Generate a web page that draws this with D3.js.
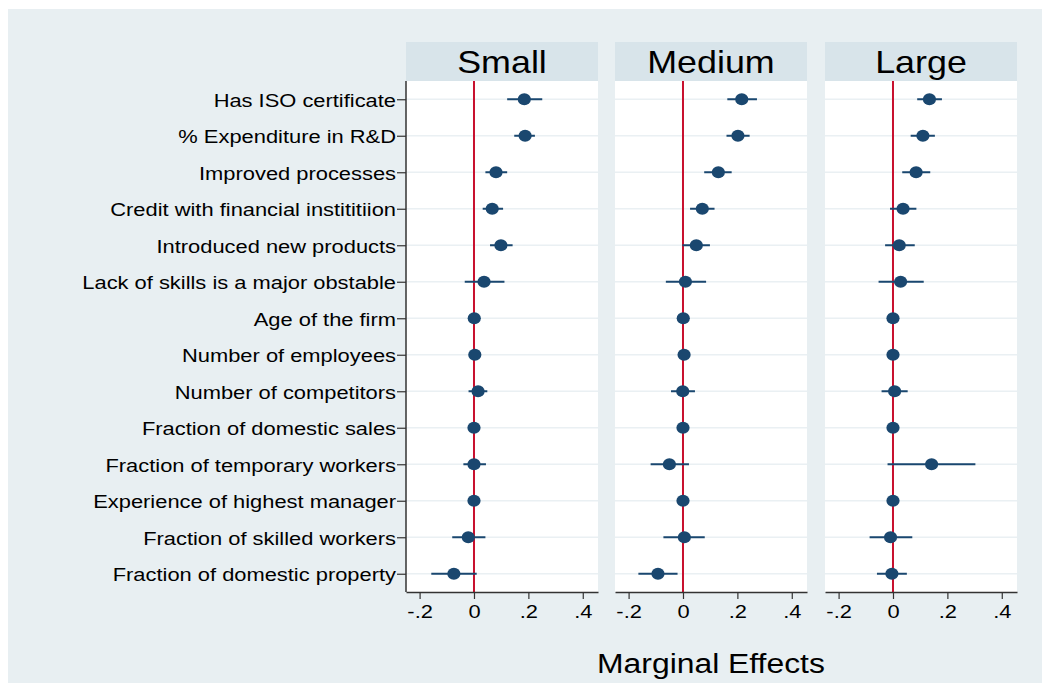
<!DOCTYPE html>
<html>
<head>
<meta charset="utf-8">
<script src="https://cdn.jsdelivr.net/npm/d3@7"></script>
<style>
  html, body { margin: 0; padding: 0; background: #ffffff; }
  svg { display: block; }
  text { font-family: "Liberation Sans", Arial, sans-serif; fill: #000; }
</style>
</head>
<body>
<svg id="chart" width="1042" height="683"></svg>
<script>
// Covariates, top to bottom
const categories = [
  "Has ISO certificate",
  "% Expenditure in R&D",
  "Improved processes",
  "Credit with financial instititiion",
  "Introduced new products",
  "Lack of skills is a major obstable",
  "Age of the firm",
  "Number of employees",
  "Number of competitors",
  "Fraction of domestic sales",
  "Fraction of temporary workers",
  "Experience of highest manager",
  "Fraction of skilled workers",
  "Fraction of domestic property"
];

const panels = ["Small", "Medium", "Large"];

// Marginal effects (point estimates) by firm size
const smallEst  = [0.185, 0.188, 0.081, 0.067, 0.099, 0.037, 0.001, 0.003, 0.015, 0.000, 0.000, 0.000, -0.021, -0.074];
const mediumEst = [0.216, 0.202, 0.130, 0.071, 0.049, 0.009, 0.001, 0.004, -0.001, 0.000, -0.050, 0.000, 0.005, -0.092];
const largeEst  = [0.134, 0.110, 0.085, 0.037, 0.023, 0.028, 0.000, 0.000, 0.006, 0.000, 0.142, 0.000, -0.009, -0.004];

// Confidence interval bounds
const smallLo  = [0.122, 0.148, 0.042, 0.032, 0.059, -0.034, -0.004, -0.004, -0.020, -0.003, -0.039, -0.003, -0.080, -0.157];
const smallHi  = [0.251, 0.224, 0.122, 0.107, 0.142, 0.112, 0.006, 0.009, 0.049, 0.003, 0.044, 0.003, 0.042, 0.010];
const mediumLo = [0.163, 0.160, 0.078, 0.026, -0.002, -0.063, -0.004, -0.003, -0.044, -0.003, -0.119, -0.003, -0.072, -0.164];
const mediumHi = [0.272, 0.245, 0.179, 0.116, 0.099, 0.085, 0.006, 0.010, 0.044, 0.003, 0.022, 0.003, 0.080, -0.020];
const largeLo  = [0.089, 0.065, 0.034, -0.011, -0.029, -0.053, -0.003, -0.003, -0.042, -0.003, -0.020, -0.003, -0.086, -0.059];
const largeHi  = [0.180, 0.154, 0.137, 0.086, 0.080, 0.113, 0.003, 0.003, 0.054, 0.003, 0.303, 0.003, 0.071, 0.051];

const xTicks = [-0.2, 0, 0.2, 0.4];
const xTickLabels = ["-.2", "0", ".2", ".4"];
const xTitle = "Marginal Effects";

const series = [
  { name: panels[0], est: smallEst,  lo: smallLo,  hi: smallHi },
  { name: panels[1], est: mediumEst, lo: mediumLo, hi: mediumHi },
  { name: panels[2], est: largeEst,  lo: largeLo,  hi: largeHi }
];

// Widen text horizontally while keeping its anchor
function widen(sel, factor) {
  sel.each(function () {
    const w = this.getComputedTextLength();
    d3.select(this).attr("textLength", w * factor).attr("lengthAdjust", "spacingAndGlyphs");
  });
}

const svg = d3.select("#chart");
const W = 1042, H = 683;

// Graph region background
svg.append("rect").attr("x", 8).attr("y", 9).attr("width", W - 8).attr("height", H - 9)
  .attr("fill", "#e8eff2");

const panelLeft = [406, 615, 825];
const panelW = 192;
const headerTop = 42, headerH = 39;
const plotTop = headerTop + headerH, plotBottom = 592;

const y = d3.scalePoint().domain(categories).range([plotTop, plotBottom]).padding(0.5);

const navy = "#1a476f";
const red = "#c8102e";

series.forEach((s, p) => {
  const x0 = panelLeft[p];
  const x = d3.scaleLinear().domain([-0.25, 0.456]).range([x0, x0 + panelW]);
  const g = svg.append("g");

  // Header strip
  g.append("rect").attr("x", x0).attr("y", headerTop).attr("width", panelW).attr("height", headerH)
    .attr("fill", "#d8e4ea");
  g.append("text").attr("x", x0 + panelW / 2).attr("y", headerTop + headerH / 2 + 11.5)
    .attr("text-anchor", "middle").style("font-size", "32px").text(s.name)
    .call(widen, 1.12);

  // Plot area
  g.append("rect").attr("x", x0).attr("y", plotTop).attr("width", panelW).attr("height", plotBottom - plotTop)
    .attr("fill", "#ffffff");

  // Horizontal grid lines
  g.selectAll("line.grid").data(categories).join("line").attr("class", "grid")
    .attr("x1", x0).attr("x2", x0 + panelW)
    .attr("y1", d => y(d)).attr("y2", d => y(d))
    .attr("stroke", "#eaf0f3").attr("stroke-width", 1.5);

  // Reference line at zero
  g.append("line").attr("x1", x(0)).attr("x2", x(0)).attr("y1", plotTop).attr("y2", plotBottom)
    .attr("stroke", red).attr("stroke-width", 2);

  // Confidence intervals
  g.selectAll("line.ci").data(categories).join("line").attr("class", "ci")
    .attr("x1", (d, i) => x(s.lo[i])).attr("x2", (d, i) => x(s.hi[i]))
    .attr("y1", d => y(d)).attr("y2", d => y(d))
    .attr("stroke", navy).attr("stroke-width", 2);

  // Point estimates
  g.selectAll("ellipse.pt").data(categories).join("ellipse").attr("class", "pt")
    .attr("cx", (d, i) => x(s.est[i])).attr("cy", d => y(d))
    .attr("rx", 6.6).attr("ry", 5.9).attr("fill", navy);

  // X axis
  const xAxis = d3.axisBottom(x).tickValues(xTicks)
    .tickFormat((d, i) => xTickLabels[i]).tickSize(7).tickSizeOuter(0).tickPadding(6);
  const ax = g.append("g").attr("transform", `translate(0,${plotBottom})`).call(xAxis);
  ax.select(".domain").attr("stroke", "#333").attr("stroke-width", 1.5);
  ax.selectAll(".tick line").attr("stroke", "#333").attr("stroke-width", 1.2);
  ax.selectAll(".tick text").style("font-size", "19px")
    .style("font-family", "'Liberation Sans', Arial, sans-serif").attr("fill", "#000")
    .call(widen, 1.15);

  // Y axis on the first panel only
  if (p === 0) {
    const yAxis = d3.axisLeft(y).tickSize(9).tickSizeOuter(0).tickPadding(1);
    const ay = g.append("g").attr("transform", `translate(${x0},0)`).call(yAxis);
    ay.select(".domain").attr("stroke", "#333").attr("stroke-width", 1.5)
      .attr("d", `M0,${plotTop}V${plotBottom}`);
    ay.selectAll(".tick line").attr("stroke", "#333").attr("stroke-width", 1.2);
    ay.selectAll(".tick text").style("font-size", "17.5px")
      .style("font-family", "'Liberation Sans', Arial, sans-serif").attr("fill", "#000")
      .attr("dy", "0.4em")
      .call(widen, 1.25);
  }
});

// Axis title
svg.append("text").attr("x", 711).attr("y", 673).attr("text-anchor", "middle")
  .style("font-size", "27px").text(xTitle)
  .call(widen, 1.18);
</script>
</body>
</html>
